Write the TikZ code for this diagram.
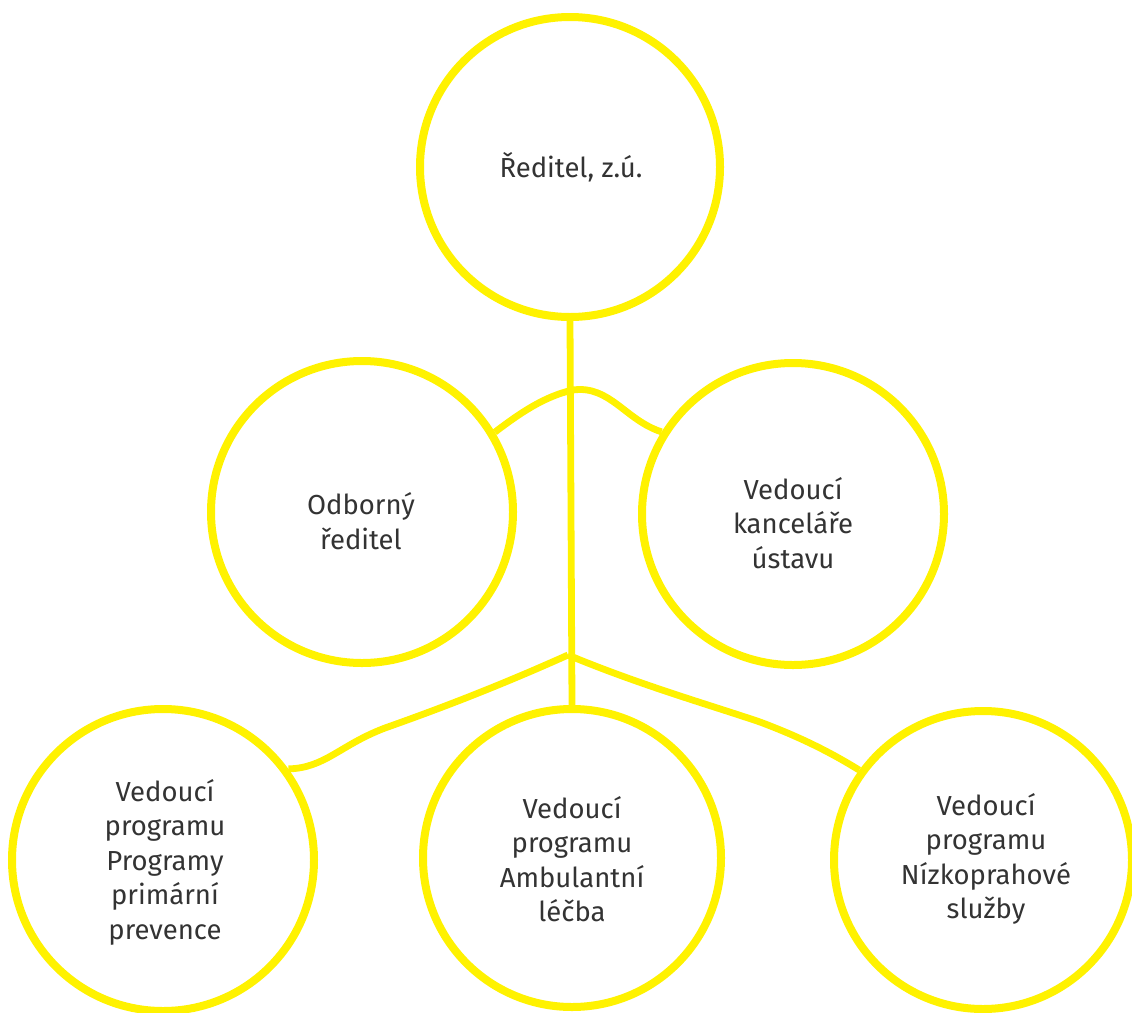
\documentclass[tikz,border=0pt]{standalone}
\usepackage{fontspec}
\setmainfont{Fira Sans}
\definecolor{ylw}{HTML}{FFF200}
\definecolor{txt}{HTML}{333333}
\begin{document}
\begin{tikzpicture}[x=1pt,y=-1pt,
  circ/.style={circle,draw=ylw,line width=8pt,inner sep=0pt,minimum size=#1},
  lbl/.style={text=txt,font=\fontsize{27.5}{34.5}\selectfont,align=center,inner sep=0pt},
  link/.style={draw=ylw,line width=6.8pt}]
\useasboundingbox (0,0) rectangle (1132,1012);
\node[circ=300pt] (top) at (570,167) {};
\node[circ=302pt] (odb) at (362,512) {};
\node[circ=302pt] (kanc) at (793,514) {};
\node[circ=302pt] (prev) at (163,860) {};
\node[circ=298pt] (amb) at (572,858) {};
\node[circ=298pt] (nizk) at (983,860) {};
\node[lbl] (ttop) at (571,167) {Ředitel, z.ú.};
\node[lbl] (todb) at (361,521) {Odborný\\ředitel};
\node[lbl] (tkanc) at (793,523) {Vedoucí\\kanceláře\\ústavu};
\node[lbl] (tprev) at (165,862) {Vedoucí\\programu\\Programy\\primární\\prevence};
\node[lbl] (tamb) at (572,859) {Vedoucí\\programu\\Ambulantní\\léčba};
\node[lbl] (tnizk) at (986,859) {Vedoucí\\programu\\Nízkoprahové\\služby};
\coordinate (j1) at (573,390);
\coordinate (j2) at (568,655);
\draw[link] (top.south) -- (amb.north);
\draw[link] (odb.31) .. controls (520,413) and (545,396) .. (j1)
  .. controls (610,385) and (625,420) .. (kanc.148);
\draw[link] (j2) .. controls (490,690) and (430,712) .. (385,728)
  .. controls (340,745) and (325,768) .. (prev.36);
\draw[link] (j2) .. controls (640,685) and (710,705) .. (760,722)
  .. controls (800,737) and (830,752) .. (nizk.144);
\end{tikzpicture}
\end{document}
